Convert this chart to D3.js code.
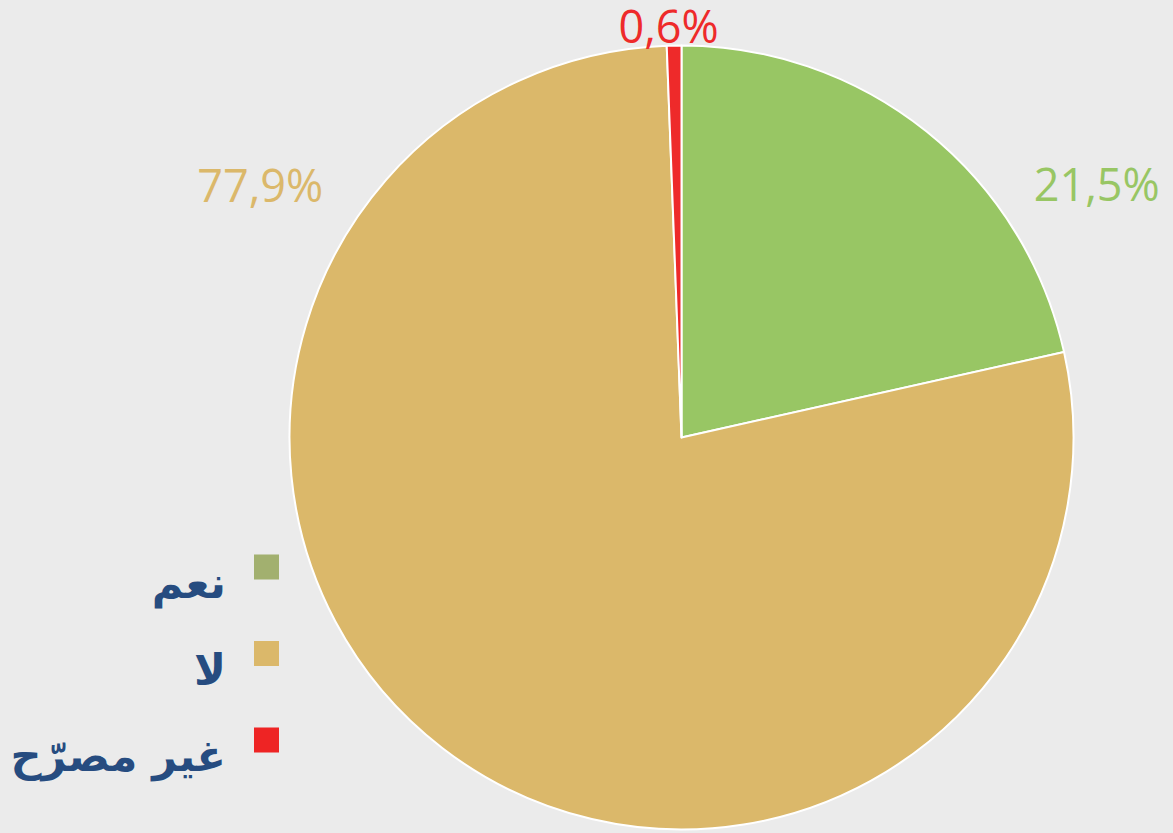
<!DOCTYPE html>
<html>
<head>
<meta charset="utf-8">
<script src="https://cdn.jsdelivr.net/npm/d3@7"></script>
<style>
  html, body { margin: 0; padding: 0; background: #ebebeb; }
  svg { display: block; }
</style>
</head>
<body>
<div id="chart"></div>
<script>
(function (d3) {

    var categories = ['نعم', 'لا', 'غير مصرّح'];
    var values = [21.5, 77.9, 0.6];
    var labels = ['21,5%', '77,9%', '0,6%'];

    var sliceColors = ['#98c664', '#dbb86a', '#ee2a2a'];
    var legendColors = ['#a2b06f', '#dbb86a', '#ee2424'];

    // where Excel put the labels (angle in degrees from 12 o'clock, distance from centre)
    var labelAngles = [58.7, -59.1, -1.8];
    var labelRadii = [486, 491, 411];

    var width = 1173,
        height = 833;

    var cx = 681.5,
        cy = 437.5,
        radius = 392;

    var svg = d3.select('#chart')
        .append('svg')
        .attr('width', width)
        .attr('height', height);

    svg.append('rect')
        .attr('width', width)
        .attr('height', height)
        .attr('fill', '#ebebeb');

    var pie = d3.pie().sort(null).value(function (d) { return d; });
    var arc = d3.arc().innerRadius(0).outerRadius(radius);

    var arcs = pie(values);

    var g = svg.append('g')
        .attr('transform', 'translate(' + cx + ',' + cy + ')');

    g.selectAll('path')
        .data(arcs)
        .enter()
        .append('path')
        .attr('d', arc)
        .attr('fill', function (d, i) { return sliceColors[i]; })
        .attr('stroke', '#ffffff')
        .attr('stroke-width', 2)
        .attr('stroke-linejoin', 'round');

    g.selectAll('text.label')
        .data(arcs)
        .enter()
        .append('text')
        .attr('class', 'label')
        .attr('x', function (d, i) { return Math.sin(labelAngles[i] * Math.PI / 180) * labelRadii[i]; })
        .attr('y', function (d, i) { return -Math.cos(labelAngles[i] * Math.PI / 180) * labelRadii[i]; })
        .attr('dy', '0.36em')
        .attr('text-anchor', 'middle')
        .attr('font-family', '"Open Sans", sans-serif')
        .attr('font-size', 45)
        .attr('fill', function (d, i) { return sliceColors[i]; })
        .text(function (d, i) { return labels[i]; });

    // legend
    var legendY = d3.scalePoint().domain(categories).range([567, 740]);

    var legend = svg.append('g');

    var items = legend.selectAll('g')
        .data(categories)
        .enter()
        .append('g')
        .attr('transform', function (d) { return 'translate(0,' + legendY(d) + ')'; });

    items.append('rect')
        .attr('x', 254)
        .attr('y', -12.5)
        .attr('width', 25)
        .attr('height', 25)
        .attr('fill', function (d, i) { return legendColors[i]; });

    items.append('text')
        .attr('x', 226)
        .attr('y', 31)
        .attr('text-anchor', 'end')
        .attr('font-family', '"DejaVu Sans", sans-serif')
        .attr('font-weight', 'bold')
        .attr('font-size', 43)
        .attr('fill', '#264c80')
        .text(function (d) { return d; });

})(d3);
</script>
</body>
</html>
